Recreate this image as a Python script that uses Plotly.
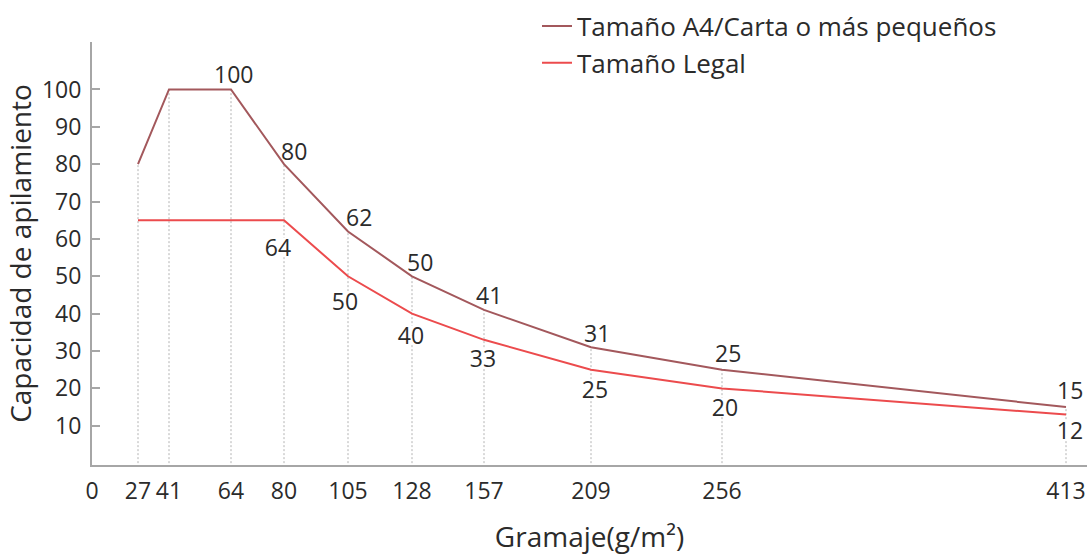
import plotly.graph_objects as go

# ---------------- data ----------------
gramaje = [27, 41, 64, 80, 105, 128, 157, 209, 256, 413]
a4_values = [80, 100, 100, 80, 62, 50, 41, 31, 25, 15]
legal_values = [65, 65, 65, 65, 50, 40, 33, 25, 20, 13]
a4_labels = ["", "", "100", "80", "62", "50", "41", "31", "25", "15"]
legal_labels = ["", "", "", "64", "50", "40", "33", "25", "20", "12"]
series_names = ["Tamaño A4/Carta o más pequeños", "Tamaño Legal"]
x_tick_values = [0, 27, 41, 64, 80, 105, 128, 157, 209, 256, 413]
y_tick_values = [10, 20, 30, 40, 50, 60, 70, 80, 90, 100]

# ---------------- layout / style ----------------
# The drawn gramaje axis is not to scale: slot of each tick along the axis
AXIS_SLOT = [0, 46, 77, 139, 192, 256, 320, 392, 499, 630, 974]
slot_of = dict(zip(x_tick_values, AXIS_SLOT))
xs = [slot_of[g] for g in gramaje]

FONT = "Open Sans, Noto Sans, sans-serif"
TXT = "#2b2b2b"
AXIS_COLOR = "#a6a6a6"
A4_COLOR = "#a3585c"
LEGAL_COLOR = "#ec4b4d"

# label offsets in pixels (dx, dy down)
A4_OFF = [(0, 0), (0, 0), (2, -15), (10, -13), (11, -14), (8, -14),
          (5, -15), (6, -14), (6, -17), (4, -17)]
LEGAL_OFF = [(0, 0), (0, 0), (0, 0), (-6, 27), (-3, 25), (-1, 21),
             (-1, 18), (4, 19), (3, 19), (4, 15)]

fig = go.Figure()

# dotted guide lines from the axis up to the A4 curve
gx, gy = [], []
for x, v in zip(xs, a4_values):
    gx += [x, x, None]
    gy += [0, v, None]
fig.add_trace(go.Scatter(x=gx, y=gy, mode="lines", showlegend=False,
                         hoverinfo="skip",
                         line=dict(color="#b3b3b3", width=1, dash="2px,2px")))

fig.add_trace(go.Scatter(x=xs, y=a4_values, mode="lines", name=series_names[0],
                         line=dict(color=A4_COLOR, width=2)))
fig.add_trace(go.Scatter(x=xs, y=legal_values, mode="lines", name=series_names[1],
                         line=dict(color=LEGAL_COLOR, width=2)))

annotations = []
for x, v, lab, (dx, dy) in zip(xs, a4_values, a4_labels, A4_OFF):
    if lab:
        annotations.append(dict(x=x, y=v, xref="x", yref="y", text=lab,
                                showarrow=False, xshift=dx, yshift=-dy,
                                font=dict(family=FONT, size=23, color=TXT)))
for x, v, lab, (dx, dy) in zip(xs, legal_values, legal_labels, LEGAL_OFF):
    if lab:
        annotations.append(dict(x=x, y=v, xref="x", yref="y", text=lab,
                                showarrow=False, xshift=dx, yshift=-dy,
                                width=28, height=18, valign="middle",
                                bgcolor="white", borderpad=0,
                                font=dict(family=FONT, size=23, color=TXT)))

fig.update_layout(
    width=1088, height=555,
    margin=dict(l=92, r=1, t=42, b=90, autoexpand=False),
    paper_bgcolor="white", plot_bgcolor="white",
    font=dict(family=FONT, color=TXT),
    showlegend=True,
    legend=dict(x=(537 - 92) / 995, xanchor="left", y=1.093, yanchor="top",
                font=dict(family=FONT, size=26, color=TXT),
                bgcolor="rgba(0,0,0,0)", itemwidth=30, tracegroupgap=0),
    annotations=annotations,
    xaxis=dict(range=[0, 995], tickmode="array", automargin=False,
               tickvals=[slot_of[t] for t in x_tick_values],
               ticktext=[str(t) for t in x_tick_values],
               showgrid=False, zeroline=False, showline=True,
               linecolor=AXIS_COLOR, linewidth=2, ticks="",
               ticklabelstandoff=4,
               tickfont=dict(family=FONT, size=23, color=TXT),
               title=dict(text="Gramaje(g/m²)", standoff=24,
                          font=dict(family=FONT, size=28, color=TXT))),
    yaxis=dict(range=[-0.5, 112.7], tickmode="array", tickvals=y_tick_values,
               automargin=False,
               showgrid=False, zeroline=False, showline=True,
               linecolor=AXIS_COLOR, linewidth=2,
               ticks="inside", ticklen=8, tickcolor=AXIS_COLOR, tickwidth=1.5,
               ticklabelstandoff=4,
               tickfont=dict(family=FONT, size=23, color=TXT),
               title=dict(text="Capacidad de apilamiento", standoff=2,
                          font=dict(family=FONT, size=28, color=TXT))),
)

fig.write_html("out.html",
               config={"displayModeBar": False},
               post_script="document.body.style.margin='0';"
                           "document.body.style.overflow='hidden';")
